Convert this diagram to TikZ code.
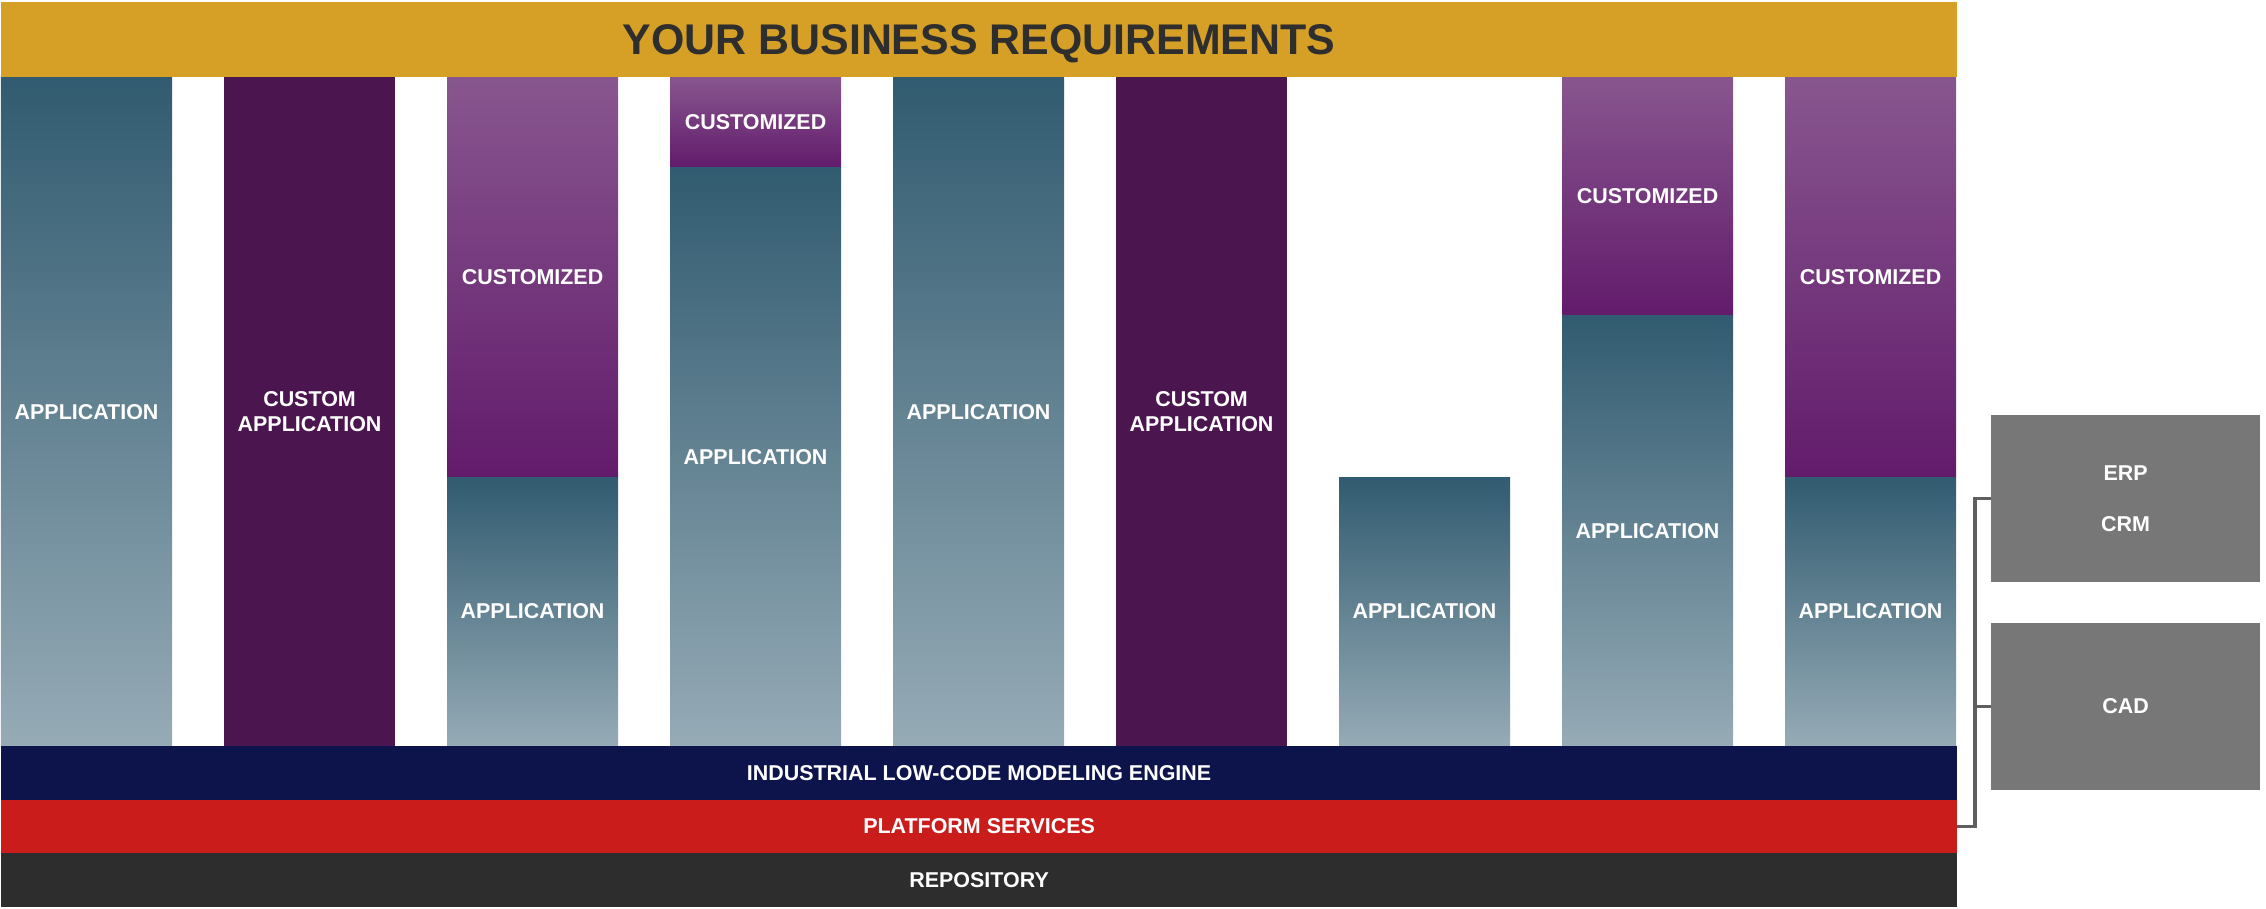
\documentclass[tikz,border=0pt]{standalone}
\usepackage{fontspec}
\setmainfont{Liberation Sans}
\usepackage{tikz}
\usetikzlibrary{calc}

\definecolor{gold}{HTML}{D6A027}
\definecolor{titlegray}{HTML}{2E2E2E}
\definecolor{apptop}{HTML}{315B70}
\definecolor{appbot}{HTML}{96ABB6}
\definecolor{custtop}{HTML}{88568F}
\definecolor{custbot}{HTML}{621B6B}
\definecolor{cappc}{HTML}{4B1650}
\definecolor{engine}{HTML}{0C144B}
\definecolor{platform}{HTML}{CB1C1C}
\definecolor{repo}{HTML}{2D2D2D}
\definecolor{extgray}{HTML}{777777}
\definecolor{linegray}{HTML}{5F5F5F}

\begin{document}
\begin{tikzpicture}[x=0.01cm,y=-0.01cm]
		\useasboundingbox (0,0) rectangle (2266,909);

		\begin{scope}[every node/.style={anchor=north west,inner sep=0pt,outer sep=0pt,
			minimum width=1.71cm,text=white,align=center,
			font=\bfseries\fontsize{6.1}{7.1}\selectfont},
		app/.style={top color=apptop,bottom color=appbot},
		cust/.style={top color=custtop,bottom color=custbot},
		capp/.style={fill=cappc}]
		\node[fill=gold,minimum width=19.55cm,minimum height=0.75cm,text=titlegray,text depth=0pt,
			font=\bfseries\fontsize{12.2}{14}\selectfont] (BR) at (1,2) {YOUR BUSINESS REQUIREMENTS};

		\node[app,minimum height=6.69cm] (A1) at (1,77) {APPLICATION};
		\node[capp,minimum height=6.69cm] (C2) at (224,77) {CUSTOM\\APPLICATION};
		\node[cust,minimum height=4.00cm] (Z3) at (447,77) {CUSTOMIZED};
		\node[app,minimum height=2.69cm] (A3) at (447,477) {APPLICATION};
		\node[cust,minimum height=0.90cm] (Z4) at (670,77) {CUSTOMIZED};
		\node[app,minimum height=5.79cm] (A4) at (670,167) {APPLICATION};
		\node[app,minimum height=6.69cm] (A5) at (893,77) {APPLICATION};
		\node[capp,minimum height=6.69cm] (C6) at (1116,77) {CUSTOM\\APPLICATION};
		\node[app,minimum height=2.69cm] (A7) at (1339,477) {APPLICATION};
		\node[cust,minimum height=2.38cm] (Z8) at (1562,77) {CUSTOMIZED};
		\node[app,minimum height=4.31cm] (A8) at (1562,315) {APPLICATION};
		\node[cust,minimum height=4.00cm] (Z9) at (1785,77) {CUSTOMIZED};
		\node[app,minimum height=2.69cm] (A9) at (1785,477) {APPLICATION};

		\node[fill=engine,minimum width=19.55cm,minimum height=0.54cm] (EN) at (1,746) {INDUSTRIAL LOW-CODE MODELING ENGINE};
		\node[fill=platform,minimum width=19.55cm,minimum height=0.53cm] (PS) at (1,800) {PLATFORM SERVICES};
		\node[fill=repo,minimum width=19.55cm,minimum height=0.54cm] (RP) at (1,853) {REPOSITORY};

		\node[fill=extgray,minimum width=2.69cm,minimum height=1.67cm,
			font=\bfseries\fontsize{6.1}{14.5}\selectfont] (ERP) at (1991,415) {ERP\\CRM};
		\node[fill=extgray,minimum width=2.69cm,minimum height=1.67cm] (CAD) at (1991,623) {CAD};
		\end{scope}

		\begin{scope}[every path/.style={draw=linegray,line width=0.95pt}]
		\coordinate (J) at ([xshift=0.18cm]PS.east);
		\draw (PS.east) -- (J) |- (ERP.west);
		\draw (J) |- (CAD.west);
		\end{scope}
\end{tikzpicture}
\end{document}
